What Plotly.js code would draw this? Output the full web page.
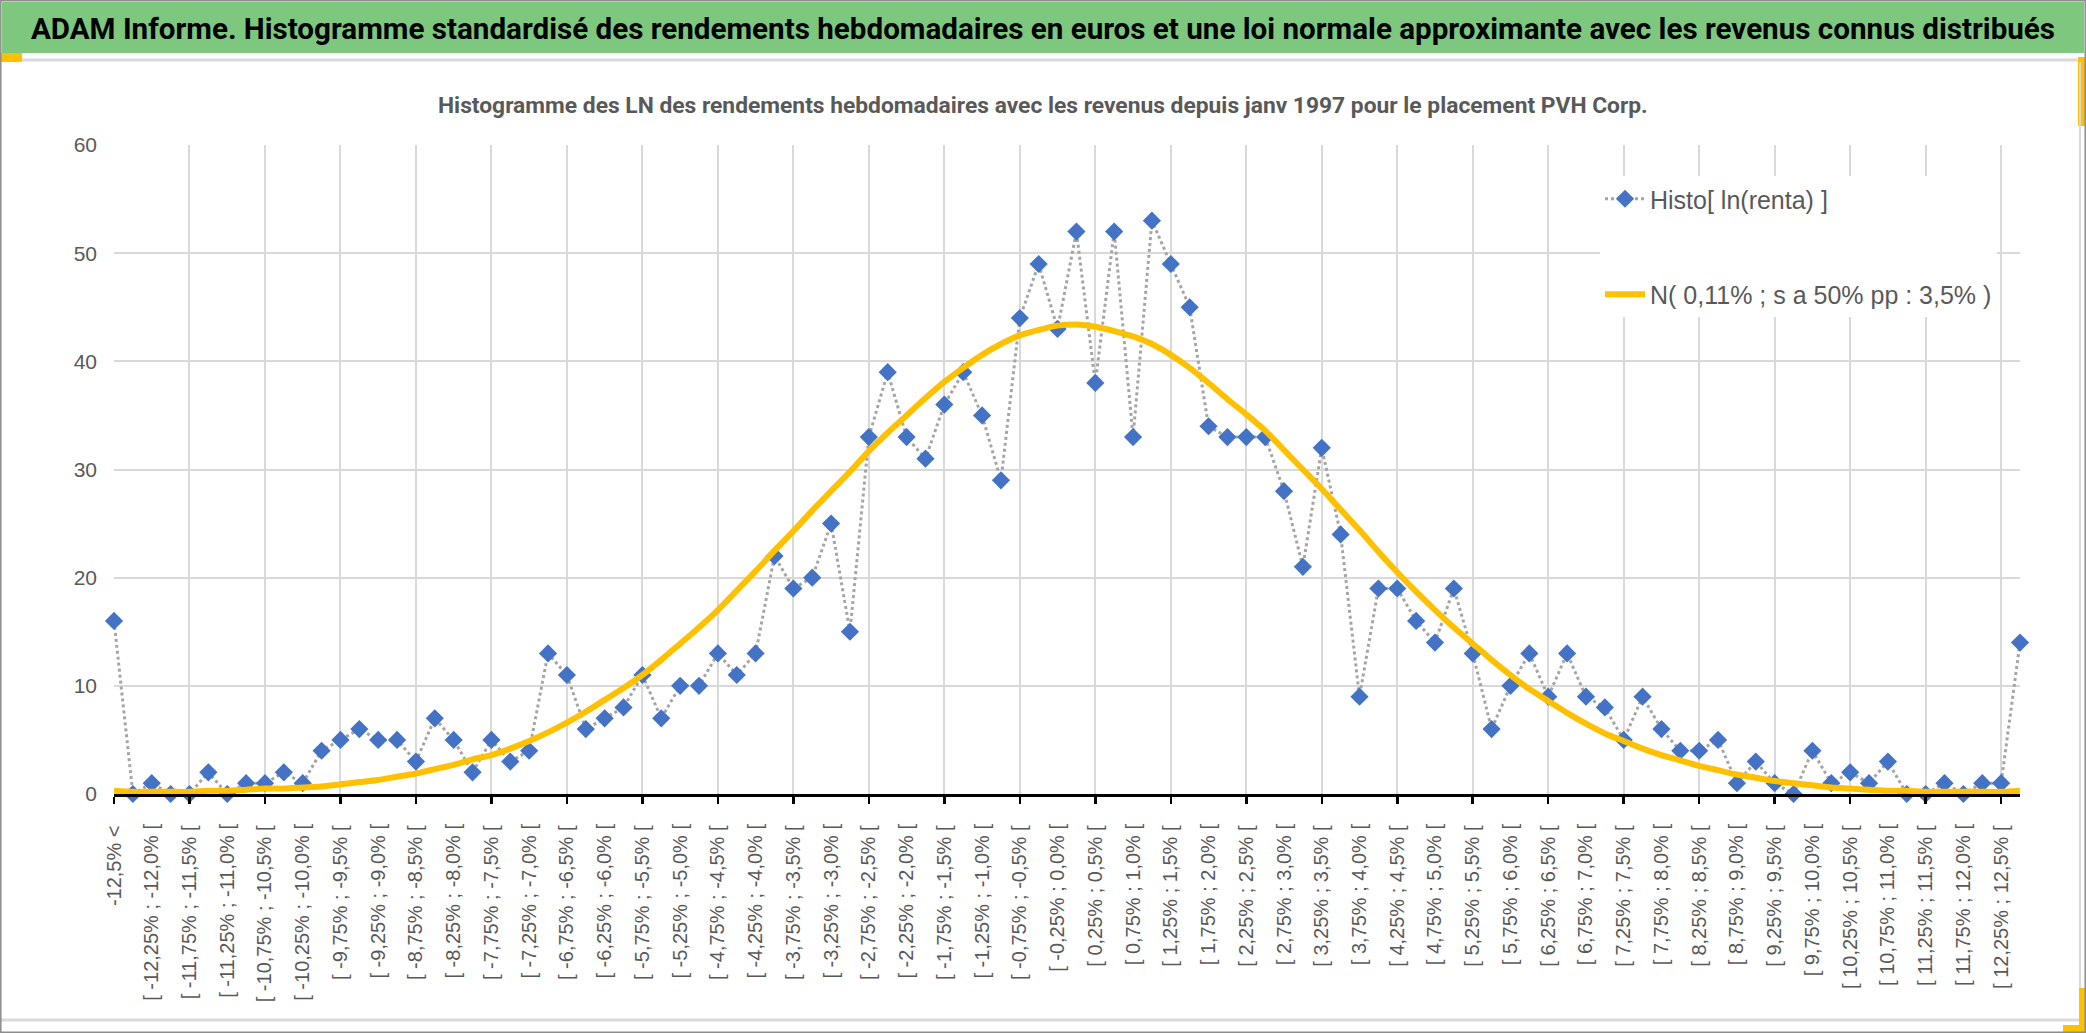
<!DOCTYPE html>
<html>
<head>
<meta charset="utf-8">
<script src="https://cdn.plot.ly/plotly-3.0.1.min.js"></script>
<style>html,body{margin:0;padding:0;background:#fff;}#chart{width:2086px;height:1033px;}</style>
</head>
<body>
<div id="chart"></div>
<script>
// ---- DATA ----
// Bin edges (in %) of the weekly log-return histogram
const binStart = -12.5;
const binStep = 0.25;
const binCount = 100;
const lowTailLabel = "-12,5% <";
const highTailLabel = "12,5% <";

// Observed counts per category (first = lower tail, last = upper tail)
const histo = [16,0,1,0,0,2,0,1,1,2, 1,4,5,6,5,5,3,7,5,2,
  5,3,4,13,11,6,7,8,11,7, 10,10,13,11,13,22,19,20,25,15,
  33,39,33,31,36,39,35,29,44,49, 43,52,38,52,33,53,49,45,34,33,
  33,33,28,21,32,24,9,19,19,16, 14,19,13,6,10,13,9,13,9,8,
  5,9,6,4,4,5,1,3,1,0, 4,1,2,1,3,0,0,1,0,1, 1,14];

// Approximating normal curve
const normale = [0.3,0.2,0.2,0.2,0.2,0.3,0.3,0.4,0.5,0.5,
  0.6,0.7,0.9,1.1,1.3,1.6,1.9,2.3,2.7,3.2,
  3.6,4.2,4.9,5.7,6.6,7.6,8.7,9.8,11.0,12.4,
  13.9,15.4,17.0,18.8,20.6,22.5,24.3,26.2,28.0,29.8,
  31.7,33.4,35.0,36.6,38.1,39.4,40.6,41.6,42.4,42.9,
  43.3,43.4,43.2,42.8,42.3,41.6,40.6,39.4,38.0,36.5,
  35.1,33.6,31.8,30.0,28.2,26.3,24.4,22.4,20.5,18.7,
  17.0,15.4,13.9,12.4,11.0,9.7,8.6,7.5,6.5,5.6,
  4.9,4.2,3.6,3.1,2.6,2.2,1.8,1.5,1.2,1.0,
  0.8,0.6,0.5,0.4,0.3,0.3,0.2,0.2,0.2,0.2,
  0.2,0.3];

const yTicks = [0,10,20,30,40,50,60];
const seriesNames = ["Histo[ ln(renta) ]", "N( 0,11% ; s a 50% pp : 3,5% )"];
const mainTitle = "ADAM Informe. Histogramme standardisé des rendements hebdomadaires en euros et une loi normale approximante avec les revenus connus distribués";
const subTitle = "Histogramme des LN des rendements hebdomadaires avec les revenus depuis janv 1997 pour le placement PVH Corp.";

// ---- category labels ----
function fmt(v){
  const s = Number.isInteger(Math.round(v*100)/50) ? v.toFixed(1) : v.toFixed(2);
  return s.replace('.', ',') + '%';
}
const categories = [lowTailLabel];
for (let k = 0; k < binCount; k++){
  const lo = binStart + binStep*k, hi = lo + binStep;
  categories.push('[ ' + fmt(lo) + ' ; ' + fmt(hi) + ' [');
}
categories.push(highTailLabel);

const tickA = categories.filter((c,i)=> i%4===0 && i<categories.length-1);
const tickB = categories.filter((c,i)=> i%4===2 && i<categories.length-1);

// ---- geometry helpers (pixels -> paper) ----
const W=2086,H=1033,L=114,R=2020,T=145,B=794;
const PW=R-L, PH=B-T;
const px=(x)=>(x-L)/PW, py=(y)=>(B-y)/PH;

const BOLDF = "Roboto,'Liberation Sans',sans-serif";
const REG = "'Liberation Sans',Arial,sans-serif";
const GREY = '#595959';

const traces = [
  {
    type:'scatter', mode:'lines+markers', x:categories, y:histo, name:seriesNames[0],
    line:{color:'#a5a5a5', width:3, dash:'dot'},
    marker:{symbol:'diamond', size:14, color:'#4472c4'},
    cliponaxis:false, legendgroup:'a', xaxis:'x', yaxis:'y'
  },
  {
    type:'scatter', mode:'lines', x:categories, y:normale, name:seriesNames[1],
    line:{color:'#ffc000', width:6, shape:'spline', smoothing:0.8},
    cliponaxis:false, legendgroup:'b', xaxis:'x2', yaxis:'y'
  }
];

function rectPx(x0,y0,x1,y1,fill){
  return {type:'rect', xref:'paper', yref:'paper', x0:px(x0), x1:px(x1), y0:py(y1), y1:py(y0),
          fillcolor:fill, line:{width:0}, layer:'above'};
}
function linePx(x0,y0,x1,y1,color,w){
  return {type:'line', xref:'paper', yref:'paper', x0:px(x0), x1:px(x1), y0:py(y0), y1:py(y1),
          line:{color:color, width:w}, layer:'above'};
}

const layout = {
  width:W, height:H,
  margin:{l:L, r:W-R, t:T, b:H-B, pad:0},
  paper_bgcolor:'#fff', plot_bgcolor:'#fff',
  showlegend:true,
  title:{text:mainTitle, font:{family:BOLDF, size:29.6, color:'#000', weight:'bold'},
         x:0.5, xref:'container', xanchor:'center', y:1-29/H, yref:'container', yanchor:'middle'},
  xaxis:{type:'category', range:[0, categories.length-1], tickmode:'array', tickvals:tickA, ticktext:tickA,
         tickangle:-90, tickfont:{family:REG, size:20, color:GREY},
         showgrid:true, gridcolor:'#d9d9d9', gridwidth:2,
         ticks:'outside', ticklen:7, tickwidth:2.5, tickcolor:'#000',
         showline:true, linecolor:'#000', linewidth:2.5, ticklabelstandoff:14,
         zeroline:false, fixedrange:true},
  xaxis2:{type:'category', overlaying:'x', anchor:'y', side:'bottom', range:[0, categories.length-1],
         tickmode:'array', tickvals:tickB, ticktext:tickB, tickangle:-90,
         tickfont:{family:REG, size:20, color:GREY}, showgrid:false, ticks:'outside', ticklen:7,
         tickcolor:'rgba(0,0,0,0)', ticklabelstandoff:14, showline:false, zeroline:false},
  yaxis:{range:[0,60], tickmode:'array', tickvals:yTicks, ticktext:yTicks.map(String),
         tickfont:{family:REG, size:21, color:GREY}, showgrid:true, gridcolor:'#d9d9d9', gridwidth:2,
         showline:false, zeroline:false, ticks:'', ticklabelstandoff:16},
  legend:{x:px(1600), y:py(176), xanchor:'left', yanchor:'top', bgcolor:'#fff',
          font:{family:REG, size:25, color:GREY}, traceorder:'grouped', tracegroupgap:60,
          itemwidth:40},
  annotations:[
    {text:subTitle, xref:'paper', yref:'paper', x:px(1043), y:py(105), xanchor:'center', yanchor:'middle',
     showarrow:false, font:{family:BOLDF, size:22.8, color:GREY, weight:'bold'}}
  ],
  shapes:[
    rectPx(2,2,2084,53,'#7dc87e'),
    linePx(22,60,2080,60,'#d9d9d9',3),
    rectPx(0,53,22,62,'#ffc000'),
    rectPx(2078,57,2086,126,'#ffc000'),
    linePx(2080,62,2080,1022,'#d9d9d9',2),
    linePx(0,1020,2080,1020,'#d9d9d9',3),
    rectPx(2079,988,2086,1033,'#ffc000'),
    rectPx(2063,1025,2086,1033,'#ffc000'),
    {type:'rect', xref:'paper', yref:'paper', x0:px(0.8), x1:px(2085.2), y0:py(1032.2), y1:py(0.8),
     line:{color:'#8c8c8c', width:1.5}, fillcolor:'rgba(0,0,0,0)', layer:'above'}
  ]
};

Plotly.newPlot('chart', traces, layout, {displayModeBar:false, staticPlot:true});
</script>
</body>
</html>
